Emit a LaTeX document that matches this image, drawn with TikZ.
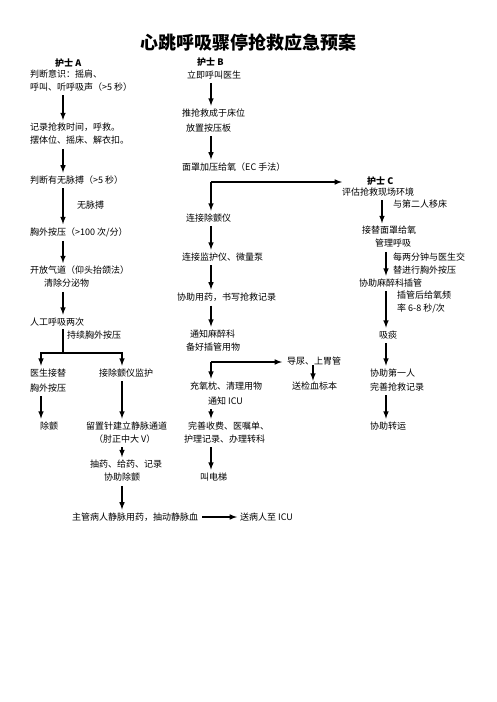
\documentclass[tikz,border=0pt]{standalone}
\usepackage{fontspec}
\newfontfamily\cjk{Noto Sans CJK SC}
\usetikzlibrary{positioning}
\usetikzlibrary{arrows}

\begin{document}
\begin{tikzpicture}
			[x=1pt,y=-1pt,
			 every node/.style={inner sep=0pt,anchor=west,align=left,font=\cjk\fontsize{9}{13}\selectfont},
			 head/.style={font=\cjk\bfseries\fontsize{9}{13}\selectfont},
			 ttl/.style={anchor=center,font=\cjk\bfseries\fontsize{18}{18}\selectfont},
			 connect/.style={-latex,line width=1.5pt,shorten <=4pt,shorten >=3pt},
			 plain/.style={line width=1.5pt,shorten <=3pt}]
			\useasboundingbox (0,0) rectangle (496,702);
			\node [ttl] (title) at (248,43) {心跳呼吸骤停抢救应急预案};

			\coordinate (xa) at (63,0);
			\coordinate (xa1) at (41,0);
			\coordinate (xa2) at (122,0);
			\coordinate (xb) at (211,0);
			\coordinate (xb2) at (313,0);
			\coordinate (xc) at (386,0);
			\coordinate (xc1) at (382,0);

			\node [head] (hA) at (55,63) {护士 A};
			\node (a1) at (30,80.5) {判断意识：摇肩、\\呼叫、听呼吸声（>5 秒）};
			\node (a2) at (30,134) {记录抢救时间，呼救。\\摆体位、摇床、解衣扣。};
			\node (a3) at (30,180) {判断有无脉搏（>5 秒）};
			\node (lA1) at (77,205) {无脉搏};
			\node (a4) at (30,232) {胸外按压（>100 次/分）};
			\node (a5) at (30,277) {开放气道（仰头抬颌法）\\\hspace{14pt}清除分泌物};
			\node (a6) at (30,322) {人工呼吸两次};
			\node (lA2) at (67,335) {持续胸外按压};
			\coordinate (forkA) at (63,353);
			\node (a7) at (30,380.5) {医生接替\\[2pt]胸外按压};
			\node (a8) at (99,373) {接除颤仪监护};
			\node (a9) at (40,426) {除颤};
			\node (a10) at (86,432.5) {留置针建立静脉通道\\\hspace{8pt}（肘正中大 V）};
			\node (a11) at (90,471) {抽药、给药、记录\\\hspace{14pt}协助除颤};
			\node (a12) at (72,517) {主管病人静脉用药，抽动静脉血};
			\node (a13) at (240,517) {送病人至 ICU};

			\node [head] (hB) at (197,62) {护士 B};
			\node (b1) at (187,75) {立即呼叫医生};
			\node (b2) at (182,120.5) {推抢救成于床位\\[2pt]\hspace{4pt}放置按压板};
			\node (b3) at (182,167) {面罩加压给氧（EC 手法）};
			\coordinate (forkB1) at (211,182);
			\node (b4) at (186,218) {连接除颤仪};
			\node (b5) at (182,257) {连接监护仪、微量泵};
			\node (b6) at (177,297) {协助用药，书写抢救记录};
			\node (b7) at (186,340.5) {\hspace{4pt}通知麻醉科\\备好插管用物};
			\coordinate (forkB2) at (211,362);
			\node (b8) at (190,393.5) {充氧枕、清理用物\\[2pt]\hspace{18pt}通知 ICU};
			\node (b9) at (287,361) {导尿、上胃管};
			\node (b10) at (292,386) {送检血标本};
			\node (b11) at (184,432.5) {\hspace{4pt}完善收费、医嘱单、\\护理记录、办理转科};
			\node (b12) at (200,477) {叫电梯};

			\node [head] (hC) at (367,181) {护士 C};
			\node (c1) at (342,192) {评估抢救现场环境};
			\node (lC1) at (393,204) {与第二人移床};
			\node (c2) at (362,237) {接替面罩给氧\\\hspace{13pt}管理呼吸};
			\node (lC2) at (393,264) {每两分钟与医生交\\替进行胸外按压};
			\node (c3) at (359,283) {协助麻醉科插管};
			\node (lC3) at (397,302) {插管后给氧频\\率 6-8 秒/次};
			\node (c4) at (379,335) {吸痰};
			\node (c5) at (370,380) {协助第一人\\[1pt]完善抢救记录};
			\node (c6) at (370,426) {协助转运};

			\draw [connect] (a1.south -| xa) -- (a2.north -| xa);
			\draw [connect] (a2.south -| xa) -- (a3.north -| xa);
			\draw [connect] (a3.south -| xa) -- (a4.north -| xa);
			\draw [connect] (a4.south -| xa) -- (a5.north -| xa);
			\draw [connect] (a5.south -| xa) -- (a6.north -| xa);
			\draw [plain] (a6.south -| xa) -- (forkA);
			\draw [connect,shorten <=0pt] (forkA) -| (a7.north -| xa1);
			\draw [connect,shorten <=0pt] (forkA) -| (a8.north -| xa2);
			\draw [connect] (a7.south -| xa1) -- (a9.north -| xa1);
			\draw [connect] (a8.south -| xa2) -- (a10.north -| xa2);
			\draw [connect] (a10.south -| xa2) -- (a11.north -| xa2);
			\draw [connect] (a11.south -| xa2) -- (a12.north -| xa2);
			\draw [connect] (a12) -- (a13);

			\draw [connect] (b1.south -| xb) -- (b2.north -| xb);
			\draw [connect] (b2.south -| xb) -- (b3.north -| xb);
			\draw [connect,shorten <=0pt] (forkB1) -- (b4.north -| xb);
			\draw [connect,shorten <=0pt,shorten >=0pt] (forkB1) -- (c1.west |- forkB1);
			\draw [connect] (b4.south -| xb) -- (b5.north -| xb);
			\draw [connect] (b5.south -| xb) -- (b6.north -| xb);
			\draw [connect] (b6.south -| xb) -- (b7.north -| xb);
			\draw [connect,shorten <=0pt] (forkB2) -- (b8.north -| xb);
			\draw [connect,shorten <=0pt,shorten >=5pt] (forkB2) -- (b9.west |- forkB2);
			\draw [connect,shorten <=0pt,shorten >=1pt] (b9.south -| xb2) -- (b10.north -| xb2);
			\draw [connect] (b8.south -| xb) -- (b11.north -| xb);
			\draw [connect] (b11.south -| xb) -- (b12.north -| xb);

			\draw [connect] (c1.south -| xc1) -- (c2.north -| xc1);
			\draw [connect] (c2.south -| xc) -- (c3.north -| xc);
			\draw [connect] (c3.south -| xc) -- (c4.north -| xc);
			\draw [connect] (c4.south -| xc) -- (c5.north -| xc);
			\draw [connect] (c5.south -| xc) -- (c6.north -| xc);
	  \end{tikzpicture}
\end{document}
